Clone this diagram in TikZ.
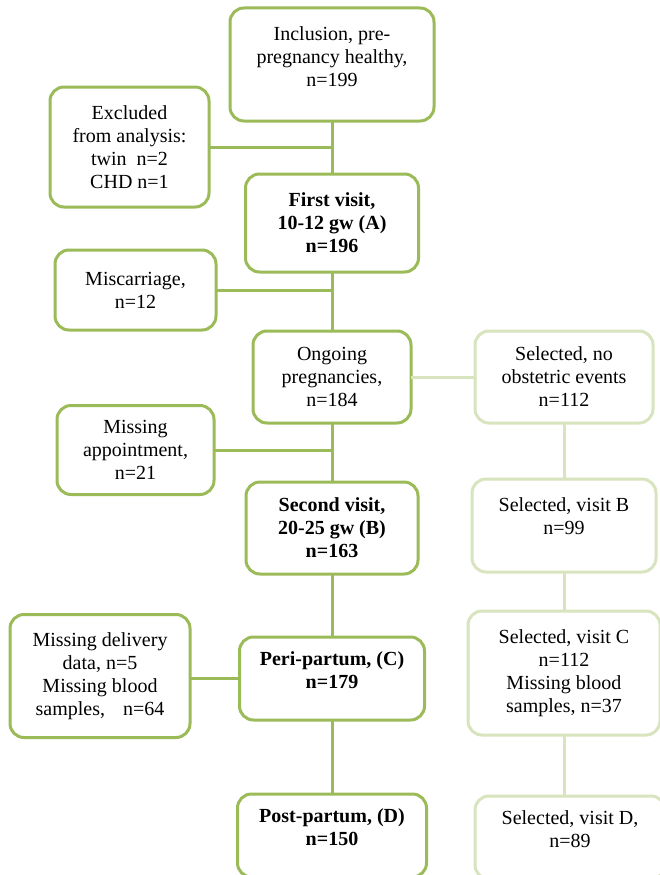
\documentclass[tikz,border=0pt]{standalone}
\usepackage{fontspec}
\setmainfont{Liberation Serif}
\usetikzlibrary{positioning, calc}
\definecolor{flowgreen}{HTML}{9BBB59}
\definecolor{flowpale}{HTML}{D7E4BD}
\tikzset{
    x=1pt, y=1pt,
    font=\fontsize{20}{23}\selectfont,
    flow_main/.style={
        rectangle,
        rounded corners=14pt,
        draw=flowgreen,
        fill=white,
        line width=3pt,
        align=center,
        inner sep=4pt,
        outer sep=0pt
    },
    flow_visit/.style={
        flow_main,
        font=\fontsize{20}{23}\selectfont\bfseries
    },
    flow_side/.style={
        flow_main
    },
    flow_sel/.style={
        flow_main,
        draw=flowpale
    },
    flow_link/.style={
        draw=flowgreen,
        line width=3pt
    },
    flow_faint_link/.style={
        draw=flowpale,
        line width=3pt
    }
}

\begin{document}
\begin{tikzpicture}
\useasboundingbox (0,0) rectangle (660,-875);

% --- Main column ---
\node[flow_main, minimum width=204pt, minimum height=113pt] (Incl) at (332,-64.5) {Inclusion, pre-\\pregnancy healthy,\\n=199\\[-8pt]\mbox{}};
\node[flow_visit, below=53pt of Incl, minimum width=173pt, minimum height=98pt] (VisitA) {First visit,\\10-12 gw (A)\\n=196};
\node[flow_main, below=59pt of VisitA, minimum width=158pt, minimum height=92pt] (Ongoing) {Ongoing\\pregnancies,\\n=184};
\node[flow_visit, below=59pt of Ongoing, minimum width=172pt, minimum height=92pt] (VisitB) {Second visit,\\20-25 gw (B)\\n=163};
\node[flow_visit, below=63pt of VisitB, minimum width=185pt, minimum height=83pt] (VisitC) {Peri-partum, (C)\\n=179\\[-6pt]\mbox{}};
\node[flow_visit, below=74pt of VisitC, minimum width=189pt, minimum height=83pt] (VisitD) {Post-partum, (D)\\n=150\\[-6pt]\mbox{}};

% --- Left column (drop-outs) ---
\node[flow_side, minimum width=159pt, minimum height=120pt] (Excl) at (129.5,-147) {Excluded\\from analysis:\\twin\ \ n=2\\CHD n=1};
\node[flow_side, minimum width=161pt, minimum height=80pt] (Misc) at (135.5,-290) {Miscarriage,\\n=12};
\node[flow_side, minimum width=157pt, minimum height=89pt] (MissApp) at (135.5,-450) {Missing\\appointment,\\n=21};
\node[flow_side, minimum width=180pt, minimum height=123pt] (MissDel) at (100,-676) {Missing delivery\\data, n=5\\Missing blood\\samples,\hspace{18pt}n=64};

% --- Right column (selected subset) ---
\node[flow_sel, right=64pt of Ongoing, minimum width=178pt, minimum height=92pt] (SelA) {Selected, no\\obstetric events\\n=112};
\node[flow_sel, below=56pt of SelA, minimum width=184pt, minimum height=93pt] (SelB) {Selected, visit B\\n=99\\[-4pt]\mbox{}};
\node[flow_sel, below=39pt of SelB, minimum width=192pt, minimum height=124pt] (SelC) {Selected, visit C\\n=112\\Missing blood\\samples, n=37};
\node[flow_sel, below=61pt of SelC, xshift=6pt, minimum width=190pt, minimum height=83pt] (SelD) {Selected, visit D,\\n=89\\[-6pt]\mbox{}};

% --- Edges ---
\draw[flow_link] (Incl) -- (VisitA);
\draw[flow_link] (VisitA) -- (Ongoing);
\draw[flow_link] (Ongoing) -- (VisitB);
\draw[flow_link] (VisitB) -- (VisitC);
\draw[flow_link] (VisitC) -- (VisitD);

\draw[flow_link] (Excl.east) -- (Excl.east -| Incl);
\draw[flow_link] (Misc.east) -- (Misc.east -| VisitA);
\draw[flow_link] (MissApp.east) -- (MissApp.east -| Ongoing);
\draw[flow_link] (VisitC.west -| MissDel.east) -- (VisitC.west);

\draw[flow_faint_link] (Ongoing.east) -- (SelA.west);
\draw[flow_faint_link] (SelA) -- (SelB);
\draw[flow_faint_link] (SelB) -- (SelC);
\draw[flow_faint_link] (SelC.south) -- (SelC.south |- SelD.north);

\end{tikzpicture}
\end{document}
